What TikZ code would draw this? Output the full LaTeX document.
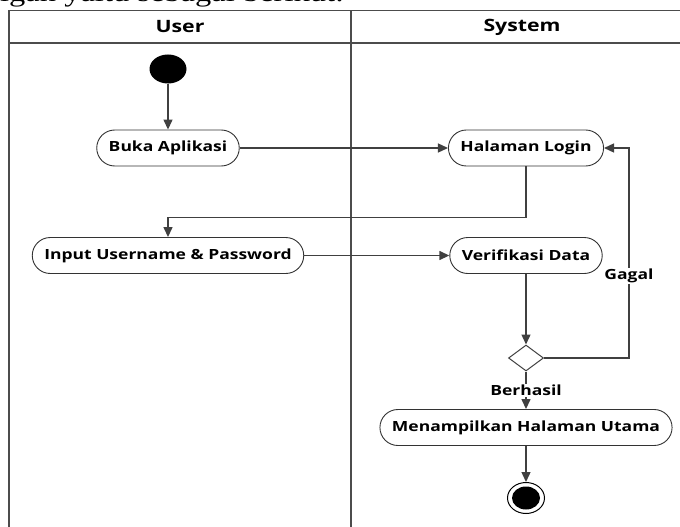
\documentclass[tikz,border=0pt]{standalone}
\usepackage{fontspec}
\newfontfamily\diafont[FakeStretch=1.25]{Open Sans}
\newfontfamily\docfont[FakeStretch=1.25]{Liberation Serif}
\usepackage{xcolor}
\usetikzlibrary{arrows.meta,shapes.geometric}
\definecolor{linegray}{HTML}{404040}

\begin{document}
\begin{tikzpicture}[x=1pt,y=-1pt,>={Triangle[length=10pt,width=9pt]},
  flow/.style={->,draw=linegray,line width=1.4pt},
  lane/.style={draw=black!70,line width=1.3pt},
  act node/.style={rectangle,rounded corners=18pt,draw=black!80,line width=0.9pt,
                   fill=white,minimum height=36pt,inner xsep=12pt,
                   font=\diafont\fontsize{14}{16}\selectfont\bfseries},
  head node/.style={font=\diafont\fontsize{17}{20}\selectfont\bfseries},
  label node/.style={fill=white,inner sep=1pt,
                     font=\diafont\fontsize{14}{16}\selectfont\bfseries},
  dec node/.style={diamond,draw=linegray,line width=1pt,fill=white,
                   minimum width=35pt,minimum height=26pt,inner sep=0pt},
  start node/.style={ellipse,fill=black,minimum width=37pt,minimum height=29pt,
                     inner sep=0pt},
  end node/.style={ellipse,draw=black,line width=1pt,fill=white,
                   minimum width=37pt,minimum height=31pt,inner sep=0pt},
  end dot/.style={ellipse,fill=black,minimum width=28pt,minimum height=23pt,
                  inner sep=0pt}]

  \useasboundingbox (0,0) rectangle (680,527);

  % text of the page above the figure
  \node[anchor=base west,inner sep=0pt,font=\docfont\fontsize{26}{30}\selectfont]
    (intro) at (0,1.5) {igan yaitu sebagai berikut:};

  % swimlanes
  \draw[lane] (9,527) -- (9,10.7) -- (700,10.7);
  \draw[lane] (9,43) -- (700,43);
  \draw[lane] (351,10.7) -- (351,527);

  \node[head node] (user) at (180,27) {User};
  \node[head node] (sys)  at (522,27) {System};

  % activities
  \node[start node] (start) at (168,69) {};
  \node[act node] (buka)  at (168,148)   {Buka Aplikasi};
  \node[act node] (login) at (526,148)   {Halaman Login};
  \node[act node] (input) at (168,255.5) {Input Username \& Password};
  \node[act node] (verif) at (526,255.5) {Verifikasi Data};
  \node[dec node] (dec)   at (526,358)   {};
  \node[act node] (utama) at (526,427.5) {Menampilkan Halaman Utama};
  \node[end node] (fin)   at (526,498)   {};
  \node[end dot] (findot) at (fin) {};

  % flows
  \draw[flow] (start) -- (buka);
  \draw[flow] (buka) -- (login);
  \draw[flow] (login.south) -- ++(0,51) -| (input.north);
  \draw[flow] (input) -- (verif);
  \draw[flow] (verif) -- (dec);
  \draw[flow] (dec.east) -- ++(85,0)
    -- node[label node,pos=0.39] (gagal) {Gagal} ++(0,-210) -- (login.east);
  \draw[flow] (dec.south) -- node[label node] (berhasil) {Berhasil} (utama.north);
  \draw[flow] (utama) -- (fin);

\end{tikzpicture}
\end{document}
